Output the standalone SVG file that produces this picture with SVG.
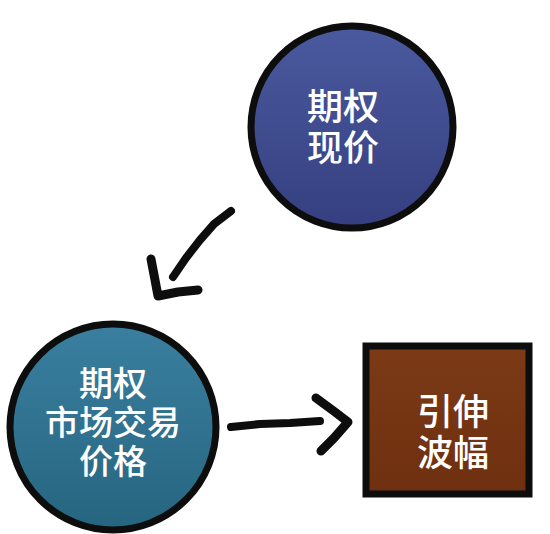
<svg xmlns="http://www.w3.org/2000/svg" width="550" height="534" viewBox="0 0 550 534">
<defs>
<linearGradient id="gBlue" x1="0" y1="0" x2="0" y2="1"><stop offset="0" stop-color="#4a5a9e"/><stop offset="1" stop-color="#353f80"/></linearGradient>
<linearGradient id="gTeal" x1="0" y1="0" x2="0" y2="1"><stop offset="0" stop-color="#3a7fa0"/><stop offset="1" stop-color="#26657f"/></linearGradient>
<linearGradient id="gBrown" x1="0" y1="0" x2="0" y2="1"><stop offset="0" stop-color="#7c3a16"/><stop offset="1" stop-color="#6e3010"/></linearGradient>
</defs>
<style>
.edge{stroke:#0d0d0d;stroke-width:7}
.lbl{font-family:"Liberation Sans","Noto Sans CJK SC",sans-serif;fill:#ffffff;text-anchor:middle;font-weight:500}
.conn{fill:none;stroke:#0d0d0d;stroke-linecap:round;stroke-linejoin:round}
</style>
<rect width="550" height="534" fill="#ffffff"/>
<g id="node-spot">
<circle cx="352" cy="127" r="101" fill="url(#gBlue)" class="edge"/>
<text class="lbl" font-size="36"><tspan x="343" y="120">期权</tspan><tspan x="343" y="161">现价</tspan></text>
</g>
<g id="node-market">
<circle cx="113" cy="427" r="103" fill="url(#gTeal)" class="edge"/>
<text class="lbl" font-size="34"><tspan x="113" y="396">期权</tspan><tspan x="113" y="435">市场交易</tspan><tspan x="113" y="474">价格</tspan></text>
</g>
<g id="node-iv">
<rect x="366" y="346" width="163" height="148" fill="url(#gBrown)" class="edge"/>
<text class="lbl" font-size="36"><tspan x="453" y="425">引伸</tspan><tspan x="453" y="466">波幅</tspan></text>
</g>
<g id="connectors">
<path class="conn" stroke-width="8" d="M231 211 L214 224 L200 240 L186 258 L173 277"/>
<path class="conn" stroke-width="9" d="M151 259 L155 280 L158 296 L178 292 L198 290"/>
<path class="conn" stroke-width="8" d="M231 427 L260 424 L290 423 L320 421"/>
<path class="conn" stroke-width="9" d="M316 398 L335 412 L348 422 L334 438 L321 451"/>
</g>
</svg>
